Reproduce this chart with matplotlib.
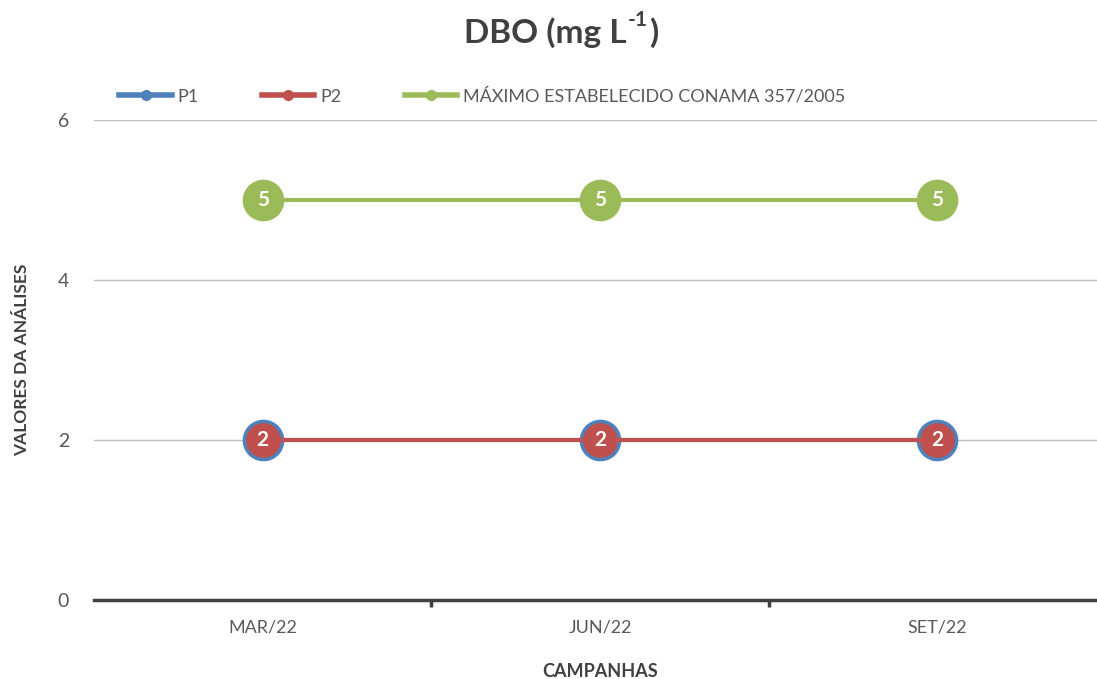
import matplotlib.pyplot as plt
from matplotlib.lines import Line2D

plt.rcParams['font.family'] = ['Lato', 'DejaVu Sans']

campanhas = ['MAR/22', 'JUN/22', 'SET/22']
p1 = [2, 2, 2]
p2 = [2, 2, 2]
conama = [5, 5, 5]

azul = '#4f81bd'
vermelho = '#c0504d'
verde = '#9bbb59'
cinza = '#595959'

fig = plt.figure(figsize=(10.97, 6.79), dpi=100)
ax = fig.add_axes([0.0857, 0.1163, 0.9225, 0.7069])

x = range(len(campanhas))
ax.plot(x, conama, color=verde, lw=3, marker='o', ms=29, mfc=verde, mec=verde, zorder=3)
ax.plot(x, p1, color=azul, lw=3, marker='o', ms=29, mfc=azul, mec=azul, zorder=4)
ax.plot(x, p2, color=vermelho, lw=3, marker='o', ms=24, mfc=vermelho, mec=vermelho, zorder=5)

for xi, v in zip(x, conama):
    ax.text(xi, v, f'{v:g}', color='white', fontsize=15, fontweight='bold',
            ha='center', va='center', zorder=6)
for xi, v in zip(x, p2):
    ax.text(xi, v, f'{v:g}', color='white', fontsize=15, fontweight='bold',
            ha='center', va='center', zorder=6)

ax.set_xlim(-0.5, 2.5)
ax.set_ylim(0, 6)
ax.set_yticks([0, 2, 4, 6])
ax.yaxis.grid(True, color='#bfbfbf', lw=1)
ax.set_axisbelow(True)
ax.tick_params(axis='y', length=0, labelsize=14, labelcolor=cinza, pad=18)

ax.set_xticks([0.5, 1.5], minor=False)
ax.set_xticklabels([])
ax.set_xticks(list(x), minor=True)
ax.set_xticklabels(campanhas, minor=True)
ax.tick_params(axis='x', which='major', length=5, width=2.5, color='#404040', direction='out')
ax.tick_params(axis='x', which='minor', length=0, labelsize=13, labelcolor=cinza, pad=14)

for s in ['top', 'right', 'left']:
    ax.spines[s].set_visible(False)
ax.spines['bottom'].set_color('#404040')
ax.spines['bottom'].set_linewidth(2.5)

ax.set_xlabel('CAMPANHAS', fontsize=13, fontweight='bold', color='#404040', labelpad=20)
ax.set_ylabel('VALORES DA ANÁLISES', fontsize=12.5, fontweight='bold', color='#404040', labelpad=20)

# titulo com o expoente pequeno
fig.canvas.draw()
r = fig.canvas.get_renderer()
tcor = '#404040'
t1 = fig.text(0, 0.952, 'DBO (mg L', fontsize=24, fontweight='bold', color=tcor, va='center')
t2 = fig.text(0, 0.970, '-1', fontsize=15, fontweight='bold', color=tcor, va='center')
t3 = fig.text(0, 0.952, ')', fontsize=24, fontweight='bold', color=tcor, va='center')
w1 = t1.get_window_extent(r).width
w2 = t2.get_window_extent(r).width
w3 = t3.get_window_extent(r).width
W = fig.bbox.width
x0 = 560 - (w1 + w2 + w3) / 2
t1.set_x(x0 / W)
t2.set_x((x0 + w1 + 1) / W)
t3.set_x((x0 + w1 + w2 + 2) / W)

handles = [
    Line2D([], [], color=azul, lw=4, marker='o', ms=7),
    Line2D([], [], color=vermelho, lw=4, marker='o', ms=7),
    Line2D([], [], color=verde, lw=4, marker='o', ms=7),
]
fig.legend(handles, ['P1', 'P2', 'MÁXIMO ESTABELECIDO CONAMA 357/2005'],
           loc='center left', bbox_to_anchor=(0.094, 0.858), ncol=3, frameon=False,
           fontsize=13, handlelength=2.9, handletextpad=0.33, columnspacing=3.5,
           labelcolor=cinza)

fig.savefig('out.png', dpi=100)
